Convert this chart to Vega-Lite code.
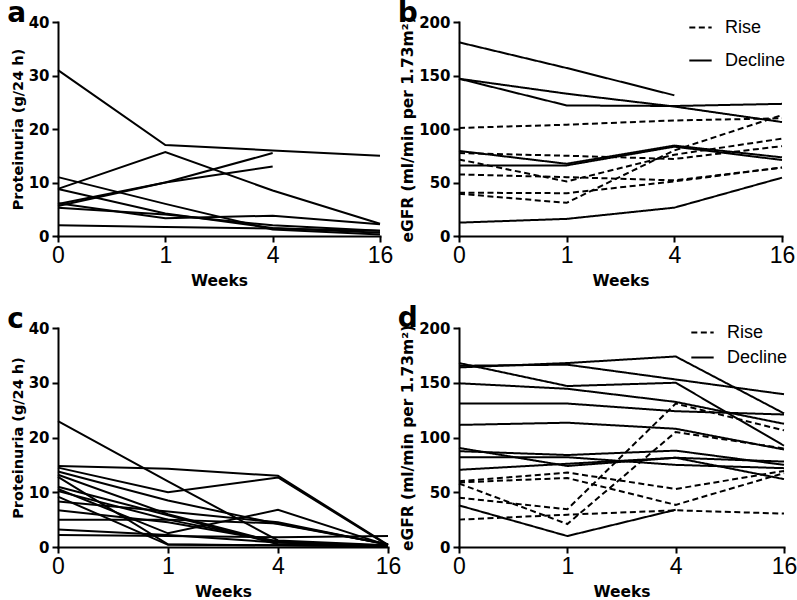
{
"$schema": "https://vega.github.io/schema/vega-lite/v6.json",
"padding": {"left": 7, "top": 0, "right": 0, "bottom": 0},
"datasets": {
"a": [
{"id":"a1","w":0,"v":31},{"id":"a1","w":1,"v":17},{"id":"a1","w":4,"v":16},{"id":"a1","w":16,"v":15},
{"id":"a2","w":0,"v":8.8},{"id":"a2","w":1,"v":15.7},{"id":"a2","w":4,"v":8.5},{"id":"a2","w":16,"v":2.3},
{"id":"a3","w":0,"v":6.0},{"id":"a3","w":1,"v":10},{"id":"a3","w":4,"v":15.5},
{"id":"a4","w":0,"v":5.6},{"id":"a4","w":1,"v":10},{"id":"a4","w":4,"v":13},
{"id":"a5","w":0,"v":11},{"id":"a5","w":1,"v":6.0},{"id":"a5","w":4,"v":1.2},{"id":"a5","w":16,"v":0.3},
{"id":"a6","w":0,"v":8.8},{"id":"a6","w":1,"v":4.2},{"id":"a6","w":4,"v":1.5},{"id":"a6","w":16,"v":0.6},
{"id":"a7","w":0,"v":6.1},{"id":"a7","w":1,"v":3.3},{"id":"a7","w":4,"v":3.8},{"id":"a7","w":16,"v":2.2},
{"id":"a8","w":0,"v":5.3},{"id":"a8","w":1,"v":4.0},{"id":"a8","w":4,"v":2.0},{"id":"a8","w":16,"v":1.0},
{"id":"a9","w":0,"v":2.0},{"id":"a9","w":1,"v":1.7},{"id":"a9","w":4,"v":1.4},{"id":"a9","w":16,"v":1.0}
],
"b": [
{"id":"b1","t":"Decline","w":0,"v":181},{"id":"b1","t":"Decline","w":1,"v":157},{"id":"b1","t":"Decline","w":4,"v":131.5},
{"id":"b2","t":"Decline","w":0,"v":147},{"id":"b2","t":"Decline","w":1,"v":133},{"id":"b2","t":"Decline","w":4,"v":121},{"id":"b2","t":"Decline","w":16,"v":106.5},
{"id":"b3","t":"Decline","w":0,"v":147},{"id":"b3","t":"Decline","w":1,"v":122},{"id":"b3","t":"Decline","w":4,"v":121.5},{"id":"b3","t":"Decline","w":16,"v":123.5},
{"id":"b4","t":"Decline","w":0,"v":79.5},{"id":"b4","t":"Decline","w":1,"v":67.5},{"id":"b4","t":"Decline","w":4,"v":84.5},{"id":"b4","t":"Decline","w":16,"v":73.5},
{"id":"b5","t":"Decline","w":0,"v":66},{"id":"b5","t":"Decline","w":1,"v":66},{"id":"b5","t":"Decline","w":4,"v":83.5},{"id":"b5","t":"Decline","w":16,"v":71},
{"id":"b6","t":"Decline","w":0,"v":12.5},{"id":"b6","t":"Decline","w":1,"v":16},{"id":"b6","t":"Decline","w":4,"v":26.5},{"id":"b6","t":"Decline","w":16,"v":54.5},
{"id":"b7","t":"Rise","w":0,"v":101},{"id":"b7","t":"Rise","w":1,"v":104},{"id":"b7","t":"Rise","w":4,"v":108},{"id":"b7","t":"Rise","w":16,"v":110},
{"id":"b8","t":"Rise","w":0,"v":77.5},{"id":"b8","t":"Rise","w":1,"v":75},{"id":"b8","t":"Rise","w":4,"v":72},{"id":"b8","t":"Rise","w":16,"v":84},
{"id":"b9","t":"Rise","w":0,"v":71.5},{"id":"b9","t":"Rise","w":1,"v":51},{"id":"b9","t":"Rise","w":4,"v":76},{"id":"b9","t":"Rise","w":16,"v":91},
{"id":"b10","t":"Rise","w":0,"v":57.5},{"id":"b10","t":"Rise","w":1,"v":55},{"id":"b10","t":"Rise","w":4,"v":52},{"id":"b10","t":"Rise","w":16,"v":64},
{"id":"b11","t":"Rise","w":0,"v":40.5},{"id":"b11","t":"Rise","w":1,"v":40},{"id":"b11","t":"Rise","w":4,"v":51},{"id":"b11","t":"Rise","w":16,"v":64},
{"id":"b12","t":"Rise","w":0,"v":39.5},{"id":"b12","t":"Rise","w":1,"v":31},{"id":"b12","t":"Rise","w":4,"v":80},{"id":"b12","t":"Rise","w":16,"v":113}
],
"c": [
{"id":"c1","w":0,"v":23},{"id":"c1","w":1,"v":12},{"id":"c1","w":4,"v":1.2},{"id":"c1","w":16,"v":0.3},
{"id":"c2","w":0,"v":14.8},{"id":"c2","w":1,"v":14.3},{"id":"c2","w":4,"v":13},{"id":"c2","w":16,"v":0.4},
{"id":"c3","w":0,"v":14.5},{"id":"c3","w":1,"v":10},{"id":"c3","w":4,"v":12.7},{"id":"c3","w":16,"v":0.3},
{"id":"c4","w":0,"v":13.8},{"id":"c4","w":1,"v":8.5},{"id":"c4","w":4,"v":4.2},{"id":"c4","w":16,"v":0.5},
{"id":"c5","w":0,"v":13.2},{"id":"c5","w":1,"v":6},{"id":"c5","w":4,"v":0.8},{"id":"c5","w":16,"v":0.2},
{"id":"c6","w":0,"v":12.8},{"id":"c6","w":1,"v":0.5},{"id":"c6","w":4,"v":0.3},{"id":"c6","w":16,"v":0.1},
{"id":"c7","w":0,"v":11},{"id":"c7","w":1,"v":5.8},{"id":"c7","w":4,"v":0.5},{"id":"c7","w":16,"v":0.2},
{"id":"c8","w":0,"v":10.6},{"id":"c8","w":1,"v":2.5},{"id":"c8","w":4,"v":6.8},{"id":"c8","w":16,"v":0.3},
{"id":"c9","w":0,"v":10.2},{"id":"c9","w":1,"v":5},{"id":"c9","w":4,"v":1},{"id":"c9","w":16,"v":0.2},
{"id":"c10","w":0,"v":9.2},{"id":"c10","w":1,"v":0.4},{"id":"c10","w":4,"v":0.3},{"id":"c10","w":16,"v":0.1},
{"id":"c11","w":0,"v":8.3},{"id":"c11","w":1,"v":6.5},{"id":"c11","w":4,"v":4.5},{"id":"c11","w":16,"v":0.4},
{"id":"c12","w":0,"v":6.7},{"id":"c12","w":1,"v":4.5},{"id":"c12","w":4,"v":1.0},{"id":"c12","w":16,"v":0.2},
{"id":"c13","w":0,"v":5},{"id":"c13","w":1,"v":5},{"id":"c13","w":4,"v":4.3},{"id":"c13","w":16,"v":0.5},
{"id":"c14","w":0,"v":3.2},{"id":"c14","w":1,"v":2.2},{"id":"c14","w":4,"v":0.8},{"id":"c14","w":16,"v":0.2},
{"id":"c15","w":0,"v":2.2},{"id":"c15","w":1,"v":2.0},{"id":"c15","w":4,"v":1.8},{"id":"c15","w":16,"v":2.0}
],
"d": [
{"id":"d1","t":"Decline","w":0,"v":164},{"id":"d1","t":"Decline","w":1,"v":168},{"id":"d1","t":"Decline","w":4,"v":174},{"id":"d1","t":"Decline","w":16,"v":122},
{"id":"d2","t":"Decline","w":0,"v":165.5},{"id":"d2","t":"Decline","w":1,"v":166.5},{"id":"d2","t":"Decline","w":4,"v":153},{"id":"d2","t":"Decline","w":16,"v":139.5},
{"id":"d3","t":"Decline","w":0,"v":168},{"id":"d3","t":"Decline","w":1,"v":147},{"id":"d3","t":"Decline","w":4,"v":150},{"id":"d3","t":"Decline","w":16,"v":92.5},
{"id":"d4","t":"Decline","w":0,"v":149.5},{"id":"d4","t":"Decline","w":1,"v":144.5},{"id":"d4","t":"Decline","w":4,"v":132.5},{"id":"d4","t":"Decline","w":16,"v":112.5},
{"id":"d5","t":"Decline","w":0,"v":131},{"id":"d5","t":"Decline","w":1,"v":131},{"id":"d5","t":"Decline","w":4,"v":124},{"id":"d5","t":"Decline","w":16,"v":121},
{"id":"d6","t":"Decline","w":0,"v":111.5},{"id":"d6","t":"Decline","w":1,"v":113.5},{"id":"d6","t":"Decline","w":4,"v":108},{"id":"d6","t":"Decline","w":16,"v":89},
{"id":"d7","t":"Decline","w":0,"v":90.5},{"id":"d7","t":"Decline","w":1,"v":74},{"id":"d7","t":"Decline","w":4,"v":81.5},{"id":"d7","t":"Decline","w":16,"v":62},
{"id":"d8","t":"Decline","w":0,"v":87.5},{"id":"d8","t":"Decline","w":1,"v":84},{"id":"d8","t":"Decline","w":4,"v":88},{"id":"d8","t":"Decline","w":16,"v":75},
{"id":"d9","t":"Decline","w":0,"v":82},{"id":"d9","t":"Decline","w":1,"v":82},{"id":"d9","t":"Decline","w":4,"v":75},{"id":"d9","t":"Decline","w":16,"v":72},
{"id":"d10","t":"Decline","w":0,"v":70.5},{"id":"d10","t":"Decline","w":1,"v":76},{"id":"d10","t":"Decline","w":4,"v":81.5},{"id":"d10","t":"Decline","w":16,"v":78},
{"id":"d11","t":"Decline","w":0,"v":38},{"id":"d11","t":"Decline","w":1,"v":10},{"id":"d11","t":"Decline","w":4,"v":34},
{"id":"d12","t":"Rise","w":0,"v":60},{"id":"d12","t":"Rise","w":1,"v":68},{"id":"d12","t":"Rise","w":4,"v":53},{"id":"d12","t":"Rise","w":16,"v":69.5},
{"id":"d13","t":"Rise","w":0,"v":59},{"id":"d13","t":"Rise","w":1,"v":63},{"id":"d13","t":"Rise","w":4,"v":38.5},{"id":"d13","t":"Rise","w":16,"v":67.5},
{"id":"d14","t":"Rise","w":0,"v":45},{"id":"d14","t":"Rise","w":1,"v":34.5},{"id":"d14","t":"Rise","w":4,"v":131},{"id":"d14","t":"Rise","w":16,"v":106.5},
{"id":"d15","t":"Rise","w":0,"v":58},{"id":"d15","t":"Rise","w":1,"v":21},{"id":"d15","t":"Rise","w":4,"v":105},{"id":"d15","t":"Rise","w":16,"v":90},
{"id":"d16","t":"Rise","w":0,"v":25},{"id":"d16","t":"Rise","w":1,"v":29.5},{"id":"d16","t":"Rise","w":4,"v":33.5},{"id":"d16","t":"Rise","w":16,"v":30.5}
]
},
"columns": 2,
"spacing": {"row": 16, "column": -4},
"concat": [
{
"title": {"text": "a"},
"width": 322, "height": 214,
"data": {"name": "a"},
"mark": {"type": "line", "strokeWidth": 2, "color": "black"},
"encoding": {
"x": {"field": "w", "type": "ordinal", "scale": {"type": "point", "padding": 0}, "axis": {"title": "Weeks"}},
"y": {"field": "v", "type": "quantitative", "scale": {"domain": [0, 40], "nice": false}, "axis": {"title": "Proteinuria (g/24 h)", "values": [0, 10, 20, 30, 40], "titleFontSize": 14.5}},
"detail": {"field": "id"}
}
},
{
"title": {"text": "b"},
"width": 323, "height": 214,
"data": {"name": "b"},
"mark": {"type": "line", "strokeWidth": 2, "color": "black"},
"encoding": {
"x": {"field": "w", "type": "ordinal", "scale": {"type": "point", "padding": 0}, "axis": {"title": "Weeks"}},
"y": {"field": "v", "type": "quantitative", "scale": {"domain": [0, 200], "nice": false}, "axis": {"title": "eGFR (ml/min per 1.73m²)", "values": [0, 50, 100, 150, 200], "titleFontSize": 15.5}},
"strokeDash": {"field": "t", "type": "nominal", "scale": {"domain": ["Rise", "Decline"], "range": [[6, 3.5], [1, 0]]}, "legend": {"title": null, "orient": "none", "legendX": 229, "legendY": -7, "rowPadding": 11}},
"detail": {"field": "id"}
}
},
{
"title": {"text": "c"},
"width": 330, "height": 219,
"data": {"name": "c"},
"mark": {"type": "line", "strokeWidth": 2, "color": "black"},
"encoding": {
"x": {"field": "w", "type": "ordinal", "scale": {"type": "point", "padding": 0}, "axis": {"title": "Weeks"}},
"y": {"field": "v", "type": "quantitative", "scale": {"domain": [0, 40], "nice": false}, "axis": {"title": "Proteinuria (g/24 h)", "values": [0, 10, 20, 30, 40], "titleFontSize": 14.5}},
"detail": {"field": "id"}
}
},
{
"title": {"text": "d"},
"width": 325, "height": 219,
"data": {"name": "d"},
"mark": {"type": "line", "strokeWidth": 2, "color": "black"},
"encoding": {
"x": {"field": "w", "type": "ordinal", "scale": {"type": "point", "padding": 0}, "axis": {"title": "Weeks"}},
"y": {"field": "v", "type": "quantitative", "scale": {"domain": [0, 200], "nice": false}, "axis": {"title": "eGFR (ml/min per 1.73m²)", "values": [0, 50, 100, 150, 200], "titleFontSize": 15.5}},
"strokeDash": {"field": "t", "type": "nominal", "scale": {"domain": ["Rise", "Decline"], "range": [[6, 3.5], [1, 0]]}, "legend": {"title": null, "orient": "none", "legendX": 231, "legendY": -8, "rowPadding": 3}},
"detail": {"field": "id"}
}
}
],
"resolve": {"scale": {"x": "independent", "y": "independent", "strokeDash": "independent"}, "legend": {"strokeDash": "independent"}},
"config": {
"font": "Liberation Sans",
"view": {"stroke": null},
"title": {"anchor": "start", "frame": "bounds", "font": "DejaVu Sans", "fontSize": 28, "fontWeight": "bold", "color": "black", "offset": -13, "dx": -3},
"axis": {"domainColor": "black", "domainWidth": 2, "tickColor": "black", "tickWidth": 2, "tickSize": 6, "grid": false, "labelColor": "black", "titleColor": "black", "domainCap": "square"},
"axisX": {"labelAngle": 0, "labelFont": "Liberation Sans", "labelFontSize": 23, "labelFontWeight": "normal", "labelPadding": 2, "titleFont": "DejaVu Sans", "titleFontSize": 15.5, "titleFontWeight": "bold", "titlePadding": 6},
"axisY": {"labelFont": "DejaVu Sans", "labelFontSize": 15, "labelFontWeight": "bold", "labelPadding": 3, "titleFont": "DejaVu Sans", "titleFontWeight": "bold", "titlePadding": 3},
"legend": {"symbolType": "stroke", "symbolSize": 500, "symbolStrokeWidth": 2, "symbolStrokeColor": "black", "labelFont": "Liberation Sans", "labelFontSize": 18, "labelColor": "black", "labelOffset": 12, "padding": 0}
}
}
